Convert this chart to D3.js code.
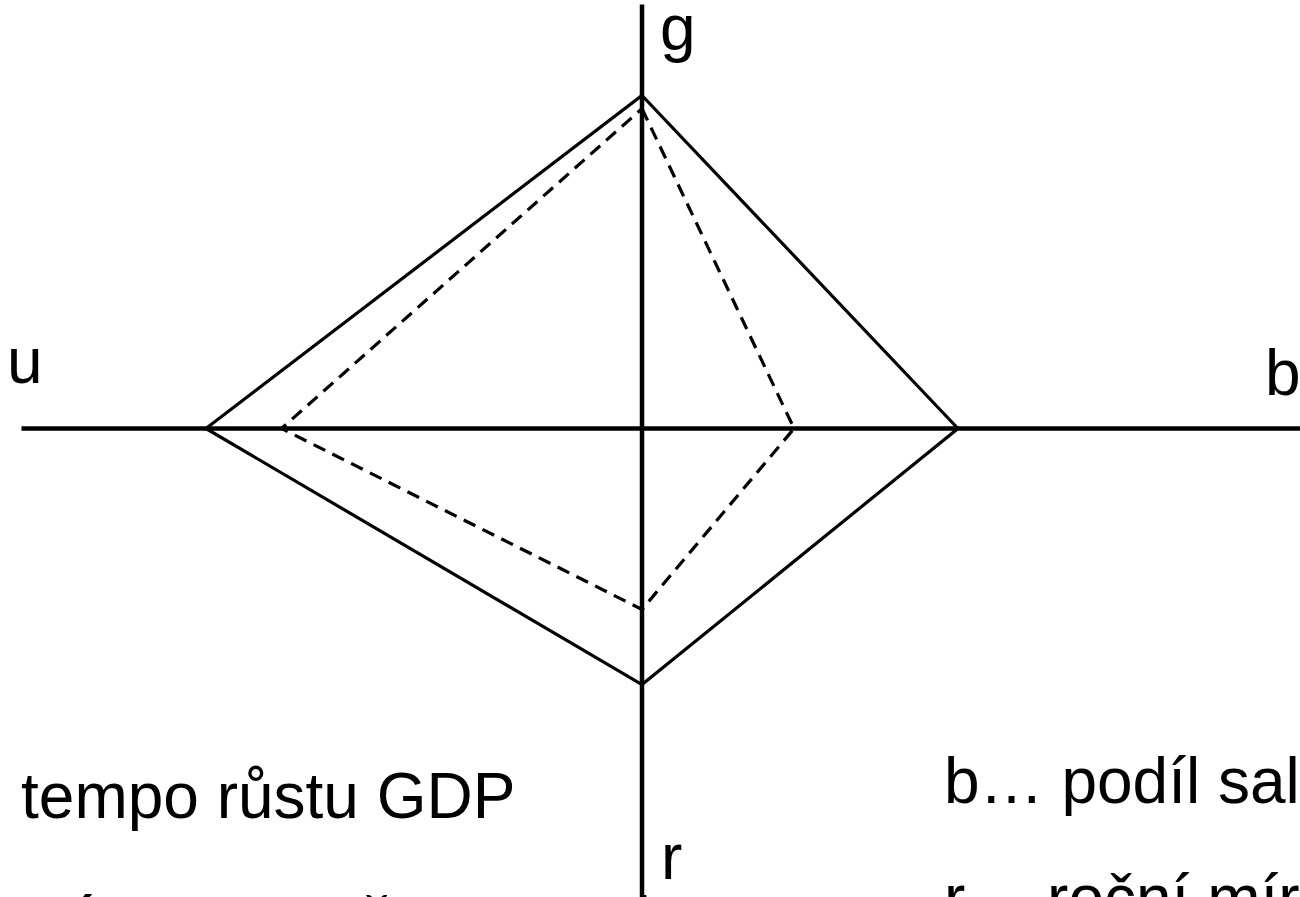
<!DOCTYPE html>
<html>
<head>
<meta charset="utf-8">
<script src="https://cdn.jsdelivr.net/npm/d3@7"></script>
<style>
  html, body { margin: 0; padding: 0; background: #ffffff; overflow: hidden; }
  svg { display: block; }
  text { font-family: "Liberation Sans", Arial, sans-serif; fill: #000; }
</style>
</head>
<body>
<svg id="chart" width="1300" height="897"></svg>
<script>
// Axis names (direction around the diagram: up, right, down, left)
const axisNames = ["g", "b", "r", "u"];
const axisAngles = [-90, 0, 90, 180]; // degrees
// Values on each axis (0-100 scale)
const solidValues  = [76.2, 72.3, 58.6, 99.8];
const dashedValues = [73.2, 34.8, 41.4, 82.5];
// Axis extents (same scale)
const axisExtentPos = [97.0, 150.0, 107.0, 142.0]; // g, b, r, u reach
// Axis label text
const axisLabels = ["g", "b", "r", "u"];
// Explanation text
const leftNotes  = ["tempo růstu GDP", "míra nezaměstnanosti"];
const rightNotes = ["b… podíl salda", "r… roční míra inflace"];

const svg = d3.select("#chart");
const W = 1300, H = 897;
const cx = 642, cy = 428.5;

const r = d3.scaleLinear().domain([0, 100]).range([0, 437]);

function pt(i, v) {
  const a = axisAngles[i] * Math.PI / 180;
  return [cx + r(v) * Math.cos(a), cy + r(v) * Math.sin(a)];
}

svg.append("rect").attr("width", W).attr("height", H).attr("fill", "#fff");

// Axes
const axesG = svg.append("g");
const hL = pt(3, axisExtentPos[3]), hR = pt(1, axisExtentPos[1]);
const vT = pt(0, axisExtentPos[0]), vB = pt(2, axisExtentPos[2]);
axesG.append("line")
  .attr("x1", hL[0]).attr("y1", cy).attr("x2", Math.max(hR[0], W)).attr("y2", cy)
  .attr("stroke", "#000").attr("stroke-width", 4.5);
axesG.append("line")
  .attr("x1", cx).attr("y1", vT[1]).attr("x2", cx).attr("y2", Math.max(vB[1], H))
  .attr("stroke", "#000").attr("stroke-width", 4.5);

const line = d3.line().curve(d3.curveLinearClosed);

// Solid polygon
svg.append("path")
  .attr("d", line(solidValues.map((v, i) => pt(i, v))))
  .attr("fill", "none").attr("stroke", "#000").attr("stroke-width", 3.2)
  .attr("stroke-linejoin", "miter");

// Dashed polygon
svg.append("path")
  .attr("d", line(dashedValues.map((v, i) => pt(i, v))))
  .attr("fill", "none").attr("stroke", "#000").attr("stroke-width", 3.2)
  .attr("stroke-dasharray", "13,8")
  .attr("stroke-linejoin", "miter");

// Axis labels
const labelPos = [
  { x: 660, y: 50 },   // g
  { x: 1265, y: 395 }, // b
  { x: 661, y: 879 },  // r
  { x: 7, y: 383 }     // u
];
svg.append("g").selectAll("text")
  .data(axisLabels)
  .join("text")
  .attr("x", (d, i) => labelPos[i].x)
  .attr("y", (d, i) => labelPos[i].y)
  .attr("font-size", 64)
  .text(d => d);

// Notes
const leftY = [818, 942];
svg.append("g").selectAll("text")
  .data(leftNotes)
  .join("text")
  .attr("x", 21)
  .attr("y", (d, i) => leftY[i])
  .attr("font-size", 64)
  .text(d => d);

const rightY = [803, 920];
svg.append("g").selectAll("text")
  .data(rightNotes)
  .join("text")
  .attr("x", 944)
  .attr("y", (d, i) => rightY[i])
  .attr("font-size", 64)
  .text(d => d);
</script>
</body>
</html>
